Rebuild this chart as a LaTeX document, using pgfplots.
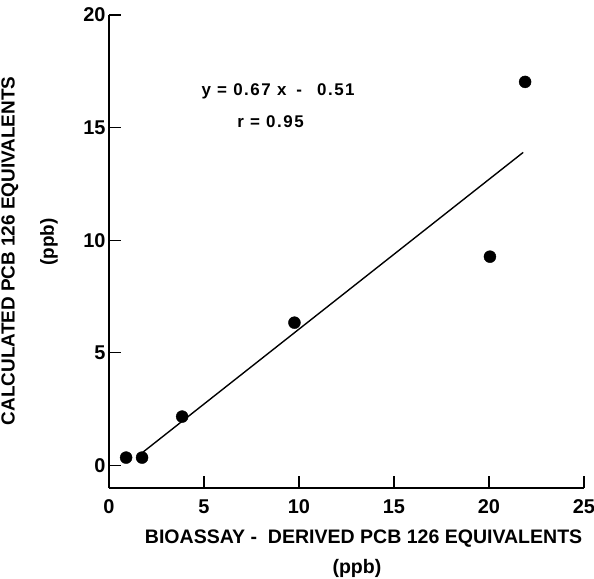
\documentclass[border=0pt]{standalone}
\usepackage{pgfplots}
\pgfplotsset{compat=1.18}
\usepackage{fontspec}
\setmainfont{Liberation Sans}
\begin{document}
\begin{tikzpicture}
\begin{axis}[
 scale only axis, width=475bp, height=473bp,
 xmin=0, xmax=25, ymin=-1, ymax=20,
 axis x line*=bottom, axis y line*=left,
 axis line style={line width=1.3pt},
 xtick={0,5,...,25}, ytick={0,5,...,20},
 tick align=inside, major tick length=12bp,
 tick style={line width=1.1pt, black},
 /pgf/number format/assume math mode=true,
 tick label style={font=\fontsize{20}{23}\selectfont\bfseries},
 xticklabel style={yshift=-8bp},
 clip=false,
]
\addplot[only marks, mark=*, mark size=6bp, black] coordinates {(0.9,0.35)(1.74,0.35)(3.85,2.17)(9.76,6.34)(20.05,9.27)(21.9,17.03)};
\addplot[black, line width=1.4pt] coordinates {(1.8,0.6)(21.8,13.9)};
\node[font=\fontsize{17}{20}\selectfont\bfseries\addfontfeature{LetterSpace=9}] at (axis cs:8.9,16.6) {y = 0.67 x\hspace{10bp}-\hspace{15bp}0.51};
\node[font=\fontsize{17}{20}\selectfont\bfseries\addfontfeature{LetterSpace=9}] at (axis cs:8.5,15.25) {r = 0.95};
\node[font=\fontsize{19.6}{22}\selectfont\bfseries] at (axis cs:13.4,-3.24) {BIOASSAY - \ DERIVED PCB 126 EQUIVALENTS};
\node[font=\fontsize{19.6}{22}\selectfont\bfseries] at (axis cs:13.05,-4.59) {(ppb)};
\node[font=\fontsize{19}{22}\selectfont\bfseries, rotate=90] at (axis cs:-5.22,9.53) {CALCULATED PCB 126 EQUIVALENTS};
\node[font=\fontsize{19}{22}\selectfont\bfseries, rotate=90] at (axis cs:-3.16,9.93) {(ppb)};
\end{axis}
\pgfresetboundingbox
\path[use as bounding box] ([xshift=-109bp,yshift=-91bp]current axis.south west) rectangle ([xshift=10bp,yshift=15bp]current axis.north east);
\end{tikzpicture}
\end{document}
